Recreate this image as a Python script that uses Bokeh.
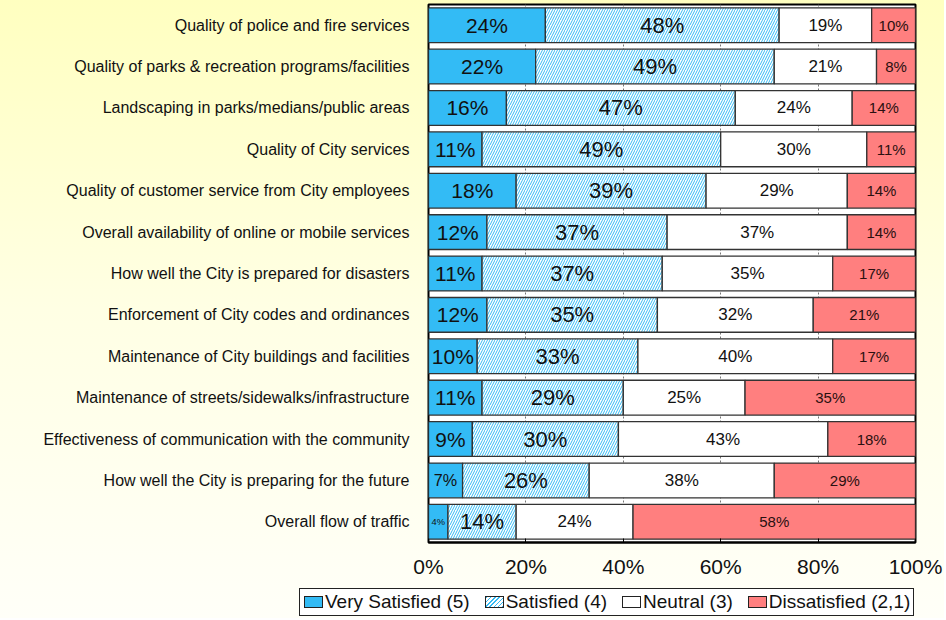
import numpy as np
from bokeh.plotting import figure
from bokeh.layouts import column
from bokeh.models import ColumnDataSource, Div, InlineStyleSheet, FixedTicker, Range1d, FactorRange
from bokeh.core.properties import value
from bokeh.embed import file_html
from bokeh.resources import INLINE

categories = [
    "Quality of police and fire services",
    "Quality of parks & recreation programs/facilities",
    "Landscaping in parks/medians/public areas",
    "Quality of City services",
    "Quality of customer service from City employees",
    "Overall availability of online or mobile services",
    "How well the City is prepared for disasters",
    "Enforcement of City codes and ordinances",
    "Maintenance of City buildings and facilities",
    "Maintenance of streets/sidewalks/infrastructure",
    "Effectiveness of communication with the community",
    "How well the City is preparing for the future",
    "Overall flow of traffic",
]
very_satisfied = [24, 22, 16, 11, 18, 12, 11, 12, 10, 11, 9, 7, 4]
satisfied      = [48, 49, 47, 49, 39, 37, 37, 35, 33, 29, 30, 26, 14]
neutral        = [19, 21, 24, 30, 29, 37, 35, 32, 40, 25, 43, 38, 24]
dissatisfied   = [10, 8, 14, 11, 14, 14, 17, 21, 17, 35, 18, 29, 58]
series_names = ["Very Satisfied (5)", "Satisfied (4)", "Neutral (3)", "Dissatisfied (2,1)"]
x_ticks = [0, 20, 40, 60, 80, 100]
x_tick_labels = ["0%", "20%", "40%", "60%", "80%", "100%"]

FONT = "Liberation Sans"
keys = ["vs", "s", "n", "d"]
data = dict(cat=categories, vs=very_satisfied, s=satisfied, n=neutral, d=dissatisfied)
src = ColumnDataSource(data)

W, H = 944, 588
BL, BR, BT, BB = 428, 29, 4, 46
p = figure(width=W, height=H, y_range=FactorRange(*reversed(categories)),
           x_range=Range1d(0, 100), output_backend="svg", toolbar_location=None,
           min_border_left=BL, min_border_right=BR, min_border_top=BT, min_border_bottom=BB)
p.border_fill_alpha = 0
p.background_fill_color = "white"
p.outline_line_color = "black"
p.outline_line_width = 2

BLUE = "#33BBF5"
RED = "#FF7F7F"
fills = [BLUE, "white", "white", RED]
hatches = [" ", "/", " ", " "]
renderers = p.hbar_stack(keys, y="cat", height=0.84, source=src,
                         fill_color=fills, line_color="#333333", line_width=1.3,
                         hatch_pattern=hatches, hatch_color=BLUE, hatch_scale=5, hatch_weight=1)

# labels
series = [very_satisfied, satisfied, neutral, dissatisfied]
frame_w = W - BL - BR
lx, ly, lt, ls, lc = [], [], [], [], []
base_sizes = [21, 22, 17, 15]
colors = ["#111111", "#111111", "#111111", "#2a1010"]
for i, cat in enumerate(categories):
    left = 0
    for k, vals in enumerate(series):
        v = vals[i]
        right = left + v
        vis_r = min(right, 100)
        cx = (left + vis_r) / 2
        seg_px = (vis_r - left) / 100 * frame_w
        size = min(base_sizes[k], seg_px / 2.1)
        lx.append(cx); ly.append(cat); lt.append(f"{v}%")
        ls.append(f"{size:.1f}px"); lc.append(colors[k])
        left = right
lsrc = ColumnDataSource(dict(x=lx, y=ly, t=lt, s=ls, c=lc))
p.text(x="x", y="y", text="t", source=lsrc, text_font=value(FONT), text_font_size="s",
       text_color="c", text_align="center", text_baseline="middle")

# axes
p.xaxis.ticker = FixedTicker(ticks=x_ticks)
p.xaxis.major_label_overrides = {t: l for t, l in zip(x_ticks, x_tick_labels)}
p.xaxis.major_label_text_font = FONT
p.xaxis.major_label_text_font_size = "21px"
p.xaxis.major_label_text_color = "#111111"
p.xaxis.major_tick_in = 4
p.xaxis.major_tick_out = 0
p.xaxis.minor_tick_line_color = None
p.xaxis.axis_line_color = "black"
p.xaxis.axis_line_width = 2
p.xaxis.major_label_standoff = 12

p.yaxis.major_label_text_font = FONT
p.yaxis.major_label_text_font_size = "16px"
p.yaxis.major_label_text_color = "#111111"
p.yaxis.major_tick_line_color = None
p.yaxis.axis_line_color = None
p.yaxis.major_label_standoff = 13

p.ygrid.grid_line_color = None
p.xgrid.grid_line_color = "#777777"
p.xgrid.grid_line_dash = "2 2"
p.xgrid.ticker = FixedTicker(ticks=x_ticks)

# legend as HTML
swatch_bg = [BLUE,
             f"repeating-linear-gradient(-45deg, {BLUE} 0px, {BLUE} 1px, white 1px, white 3px)",
             "white", RED]
parts = []
for name, bg in zip(series_names, swatch_bg):
    parts.append(
        f'<span style="display:inline-flex;align-items:center;margin-right:15px;">'
        f'<span style="display:inline-block;width:19px;height:12px;border:1px solid #222;'
        f'background:{bg};margin-right:2px;"></span>{name}</span>')
html = (f'<div style="display:flex;align-items:center;box-sizing:border-box;height:28px;'
        f'width:615px;margin-left:299px;padding-left:4px;border:1.5px solid #222;background:white;'
        f'font-family:\'{FONT}\';font-size:19px;color:#111;white-space:nowrap;">'
        + "".join(parts) + '</div>')
leg = Div(text=html, width=W, height=30, margin=(0, 0, 0, 0))

layout = column(p, leg, spacing=0)
layout.stylesheets = [InlineStyleSheet(css=":host { background: linear-gradient(to bottom, #FFFFC0 0%, #FFFFE4 50%, #FFFFF8 100%); }")]

open("out.html", "w").write(file_html(layout, INLINE))
